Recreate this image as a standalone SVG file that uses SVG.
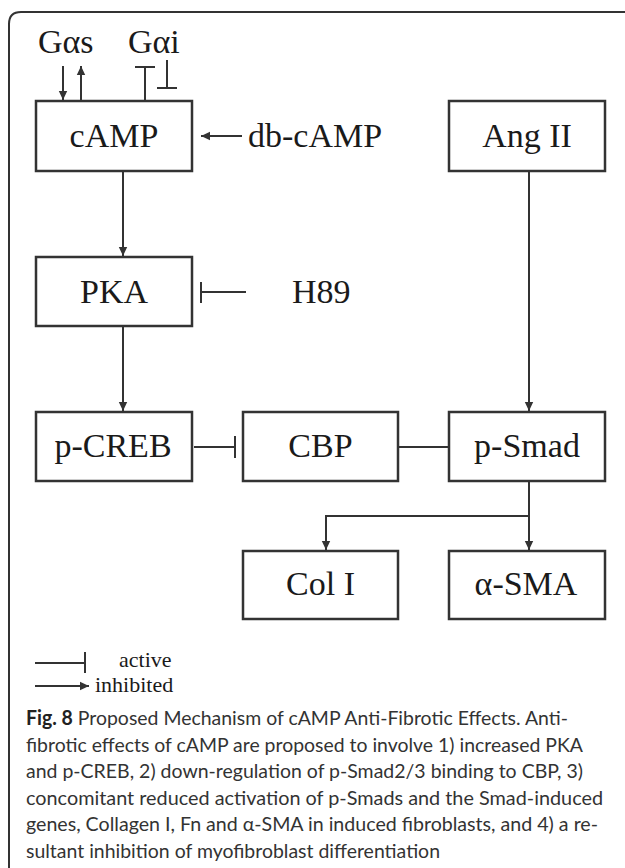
<svg xmlns="http://www.w3.org/2000/svg" width="625" height="868" viewBox="0 0 625 868">
<defs>
<style>
.box{fill:#fff;stroke:#333;stroke-width:2.5}
.lbl{font-family:"Liberation Serif","Times New Roman",serif;font-size:34px;fill:#1a1a1a;text-anchor:middle}
.free{font-family:"Liberation Serif","Times New Roman",serif;font-size:34px;fill:#1a1a1a}
.leg{font-family:"Liberation Serif","Times New Roman",serif;font-size:22px;fill:#1a1a1a}
.ln{fill:none;stroke:#333;stroke-width:2}
.arr{fill:none;stroke:#333;stroke-width:2;marker-end:url(#ah)}
.cap{font-family:Lato,"Open Sans","Noto Sans",sans-serif;font-size:20px;fill:#333}
</style>
<marker id="ah" markerUnits="userSpaceOnUse" markerWidth="10" markerHeight="10" refX="9" refY="5" orient="auto">
<path d="M0,0.8 L9,5 L0,9.2 z" fill="#333"/>
</marker>
</defs>
<rect width="625" height="868" fill="#fff"/>
<path d="M9,868 V24 Q9,12 21,12 H625" fill="none" stroke="#333" stroke-width="2"/>

<text class="free" x="38" y="53">Gαs</text>
<text class="free" x="128" y="53">Gαi</text>
<text class="free" x="248" y="147">db-cAMP</text>
<text class="free" x="292" y="303">H89</text>

<g id="n-camp"><rect class="box" x="36" y="101" width="156" height="70"/><text class="lbl" x="114" y="147">cAMP</text></g>
<g id="n-angii"><rect class="box" x="449" y="101" width="156" height="70"/><text class="lbl" x="527" y="147">Ang II</text></g>
<g id="n-pka"><rect class="box" x="36" y="257" width="156" height="69"/><text class="lbl" x="114" y="303">PKA</text></g>
<g id="n-pcreb"><rect class="box" x="36" y="412" width="156" height="69"/><text class="lbl" x="113" y="457">p-CREB</text></g>
<g id="n-cbp"><rect class="box" x="243" y="412" width="155" height="69"/><text class="lbl" x="320.5" y="457">CBP</text></g>
<g id="n-psmad"><rect class="box" x="449" y="412" width="156" height="69"/><text class="lbl" x="527" y="457">p-Smad</text></g>
<g id="n-col1"><rect class="box" x="243" y="551" width="155" height="68"/><text class="lbl" x="320.5" y="595">Col I</text></g>
<g id="n-asma"><rect class="box" x="449" y="551" width="156" height="68"/><text class="lbl" x="526" y="595">α-SMA</text></g>

<g id="connectors">
<line class="arr" x1="63" y1="66" x2="63" y2="100"/>
<line class="arr" x1="81" y1="101" x2="81" y2="66"/>
<line class="ln" x1="145" y1="67" x2="145" y2="101"/>
<line class="ln" x1="135" y1="67" x2="155" y2="67"/>
<line class="ln" x1="167" y1="60" x2="167" y2="88"/>
<line class="ln" x1="157" y1="88" x2="177" y2="88"/>
<line class="arr" x1="242" y1="136" x2="201" y2="136"/>
<line class="arr" x1="123" y1="172" x2="123" y2="256"/>
<line class="ln" x1="246" y1="292" x2="201" y2="292"/>
<line class="ln" x1="201" y1="282" x2="201" y2="303"/>
<line class="arr" x1="123" y1="327" x2="123" y2="411"/>
<line class="arr" x1="529" y1="172" x2="529" y2="411"/>
<line class="ln" x1="194" y1="447" x2="235" y2="447"/>
<line class="ln" x1="235" y1="436" x2="235" y2="458"/>
<line class="ln" x1="398" y1="447" x2="449" y2="447"/>
<line class="arr" x1="529" y1="482" x2="529" y2="550"/>
<path class="arr" d="M528,516 H326 V550"/>
</g>

<g id="legend">
<line class="ln" x1="35" y1="663" x2="85" y2="663"/>
<line class="ln" x1="85" y1="652" x2="85" y2="673"/>
<text class="leg" x="119" y="667">active</text>
<line class="arr" x1="35" y1="686" x2="89" y2="686"/>
<text class="leg" x="95" y="692">inhibited</text>
</g>

<g id="caption">
<text class="cap" x="26" y="725" textLength="542" lengthAdjust="spacingAndGlyphs"><tspan font-weight="bold" fill="#222">Fig. 8</tspan> Proposed Mechanism of cAMP Anti-Fibrotic Effects. Anti-</text>
<text class="cap" x="26" y="751.5" textLength="557" lengthAdjust="spacingAndGlyphs">fibrotic effects of cAMP are proposed to involve 1) increased PKA</text>
<text class="cap" x="26" y="778" textLength="557" lengthAdjust="spacingAndGlyphs">and p-CREB, 2) down-regulation of p-Smad2/3 binding to CBP, 3)</text>
<text class="cap" x="26" y="804.5" textLength="577" lengthAdjust="spacingAndGlyphs">concomitant reduced activation of p-Smads and the Smad-induced</text>
<text class="cap" x="26" y="831" textLength="572" lengthAdjust="spacingAndGlyphs">genes, Collagen I, Fn and α-SMA in induced fibroblasts, and 4) a re-</text>
<text class="cap" x="26" y="857.5" textLength="414" lengthAdjust="spacingAndGlyphs">sultant inhibition of myofibroblast differentiation</text>
</g>
</svg>
